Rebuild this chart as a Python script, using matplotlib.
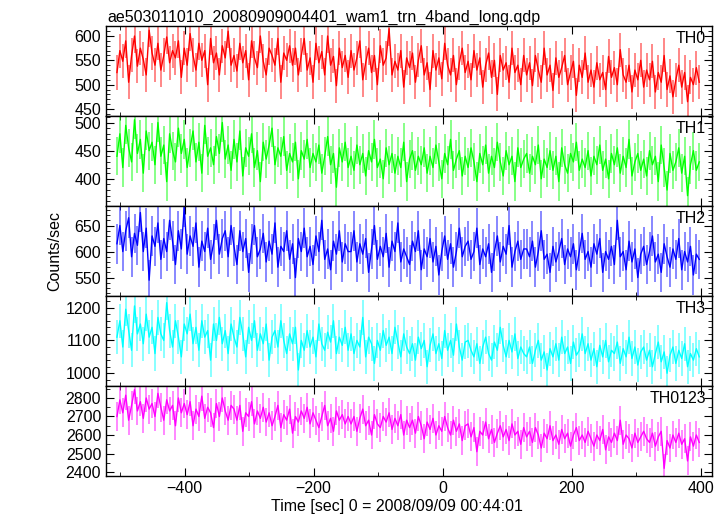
import matplotlib.pyplot as plt
import numpy as np
from matplotlib.ticker import MultipleLocator

plt.rcParams["font.family"] = ["Liberation Sans", "DejaVu Sans"]
plt.rcParams["font.size"] = 11.5

# time bins (sec from 2008/09/09 00:44:01)
t_start, t_stop, n_bins = -505.0, 398.0, 200

th0 = [
    525, 570, 548, 590, 505, 560, 600, 538, 575, 552, 520, 612, 565, 540, 585, 530, 560, 598, 545, 570,
    555, 590, 515, 575, 540, 605, 560, 530, 585, 550, 570, 500, 595, 545, 565, 520, 580, 555, 610, 540,
    560, 528, 585, 545, 570, 510, 590, 555, 535, 600, 548, 520, 575, 560, 540, 595, 505, 565, 550, 580,
    540, 575, 520, 560, 595, 530, 555, 505, 585, 545, 568, 520, 600, 540, 558, 498, 575, 535, 560, 515,
    570, 530, 555, 590, 510, 545, 575, 525, 560, 500, 580, 540, 555, 615, 520, 548, 530, 570, 495, 555,
    535, 565, 505, 550, 580, 520, 545, 490, 570, 530, 555, 512, 585, 540, 520, 560, 500, 545, 575, 525,
    548, 510, 570, 530, 555, 495, 540, 565, 515, 550, 480, 560, 530, 545, 505, 575, 525, 540, 500, 560,
    520, 545, 498, 560, 530, 505, 575, 520, 540, 488, 555, 515, 535, 560, 500, 525, 548, 478, 540, 515,
    565, 505, 530, 495, 545, 510, 525, 490, 558, 515, 535, 500, 572, 520, 505, 540, 485, 530, 510, 550,
    495, 530, 510, 548, 485, 525, 505, 560, 490, 518, 475, 510, 540, 495, 525, 465, 515, 500, 535, 505,
]
th1 = [
    440, 480, 420, 495, 455, 430, 505, 445, 470, 410, 485, 450, 465, 425, 500, 440, 460, 395, 480, 450,
    430, 490, 445, 470, 420, 455, 485, 430, 465, 410, 495, 440, 455, 425, 475, 445, 500, 435, 460, 415,
    470, 430, 485, 405, 455, 440, 480, 420, 450, 395, 465, 435, 460, 490, 425, 455, 440, 475, 415, 445,
    430, 465, 400, 450, 435, 470, 420, 445, 430, 460, 410, 440, 475, 425, 445, 385, 455, 430, 465, 420,
    440, 415, 460, 425, 445, 405, 450, 430, 470, 420, 435, 400, 455, 425, 445, 410, 440, 420, 465, 395,
    435, 450, 415, 440, 425, 455, 410, 440, 420, 460, 430, 400, 445, 425, 470, 415, 435, 450, 405, 440,
    420, 455, 430, 395, 445, 425, 460, 410, 440, 420, 465, 430, 405, 450, 425, 440, 395, 455, 420, 435,
    445, 410, 440, 425, 460, 400, 435, 420, 450, 415, 440, 395, 455, 425, 410, 445, 430, 465, 415, 435,
    420, 450, 405, 440, 425, 460, 415, 435, 400, 445, 425, 455, 410, 440, 420, 470, 405, 430, 445, 415,
    435, 405, 450, 425, 440, 395, 460, 420, 380, 445, 415, 430, 455, 410, 440, 370, 425, 450, 415, 430,
]
th2 = [
    615, 650, 600, 640, 665, 590, 635, 612, 675, 600, 645, 545, 630, 610, 655, 585, 625, 600, 660, 620,
    575, 640, 605, 685, 595, 630, 610, 655, 570, 620, 600, 645, 585, 615, 660, 595, 625, 640, 590, 650,
    610, 575, 640, 600, 625, 560, 615, 650, 590, 605, 635, 580, 620, 595, 655, 570, 610, 600, 640, 585,
    615, 550, 625, 600, 645, 590, 610, 575, 630, 600, 660, 585, 605, 565, 620, 595, 640, 580, 615, 600,
    600, 640, 580, 615, 595, 625, 560, 605, 650, 585, 610, 590, 635, 570, 620, 600, 655, 580, 605, 590,
    575, 620, 600, 640, 565, 605, 590, 625, 580, 610, 555, 600, 630, 585, 615, 570, 600, 645, 590, 610,
    620, 585, 600, 645, 575, 605, 590, 615, 560, 600, 630, 580, 610, 595, 650, 570, 600, 620, 585, 605,
    605, 590, 620, 570, 600, 640, 585, 595, 560, 610, 580, 600, 625, 575, 605, 590, 615, 565, 600, 635,
    585, 600, 570, 615, 595, 625, 560, 600, 585, 610, 575, 660, 590, 600, 565, 620, 580, 605, 550, 595,
    610, 575, 600, 630, 580, 595, 560, 615, 590, 570, 605, 585, 625, 565, 600, 580, 610, 555, 595, 585,
]
th3 = [
    1110, 1160, 1080, 1195, 1130, 1070, 1205, 1120, 1150, 1090, 1180, 1110, 1140, 1060, 1170, 1120, 1100, 1215, 1130, 1080,
    1160, 1110, 1050, 1150, 1120, 1180, 1090, 1140, 1070, 1160, 1110, 1130, 1040, 1150, 1100, 1170, 1090, 1130, 1060, 1150,
    1110, 1080, 1170, 1120, 1050, 1140, 1100, 1160, 1070, 1120, 1090, 1150, 1040, 1110, 1130, 1080, 1160, 1100, 1060, 1120,
    1090, 1140, 1010, 1100, 1070, 1130, 1080, 1110, 1050, 1150, 1090, 1070, 1125, 1095, 1160, 1060, 1110, 1085, 1140, 1070,
    1120, 1060, 1100, 1080, 1170, 1050, 1110, 1090, 1030, 1100, 1070, 1130, 1085, 1110, 1060, 1140, 1095, 1050, 1120, 1080,
    1060, 1090, 1040, 1110, 1075, 1100, 1020, 1085, 1120, 1060, 1090, 1045, 1130, 1070, 1100, 1055, 1150, 1080, 1040, 1095,
    1100, 1070, 1050, 1090, 1030, 1080, 1110, 1060, 1040, 1095, 1070, 1140, 1085, 1050, 1100, 1065, 1120, 1045, 1080, 1060,
    1050, 1080, 1030, 1070, 1100, 1040, 1065, 1010, 1075, 1050, 1090, 1040, 1110, 1060, 1080, 1030, 1095, 1055, 1070, 1120,
    1060, 1090, 1040, 1075, 1020, 1085, 1050, 1100, 1035, 1070, 1060, 1095, 1030, 1075, 1050, 1110, 1045, 1080, 1025, 1065,
    1080, 1040, 1070, 1020, 1060, 1095, 1035, 1065, 1000, 1055, 1080, 1030, 1070, 1045, 1090, 1020, 1060, 1040, 1075, 1050,
]
th0123 = [
    2700, 2790, 2720, 2815, 2680, 2760, 2845, 2730, 2780, 2690, 2800, 2740, 2770, 2700, 2825, 2750, 2680, 2790, 2730, 2760,
    2650, 2800, 2720, 2770, 2710, 2780, 2650, 2740, 2700, 2810, 2690, 2750, 2720, 2640, 2770, 2700, 2800, 2730, 2680, 2760,
    2740, 2680, 2760, 2620, 2720, 2700, 2780, 2660, 2730, 2690, 2750, 2670, 2720, 2650, 2700, 2760, 2640, 2710, 2680, 2740,
    2610, 2700, 2670, 2730, 2690, 2750, 2660, 2720, 2680, 2640, 2700, 2760, 2650, 2690, 2620, 2730, 2680, 2710, 2660, 2700,
    2660, 2700, 2620, 2690, 2740, 2650, 2680, 2600, 2710, 2660, 2640, 2700, 2670, 2720, 2630, 2690, 2650, 2710, 2600, 2680,
    2640, 2680, 2610, 2700, 2650, 2580, 2670, 2630, 2690, 2600, 2650, 2620, 2700, 2640, 2600, 2680, 2620, 2660, 2570, 2650,
    2660, 2590, 2640, 2510, 2620, 2600, 2670, 2580, 2630, 2560, 2610, 2650, 2590, 2630, 2570, 2660, 2600, 2620, 2550, 2640,
    2590, 2620, 2560, 2640, 2600, 2530, 2610, 2580, 2650, 2570, 2600, 2550, 2630, 2580, 2610, 2540, 2600, 2640, 2570, 2600,
    2560, 2620, 2580, 2540, 2600, 2570, 2630, 2520, 2590, 2560, 2610, 2570, 2680, 2550, 2600, 2580, 2530, 2610, 2560, 2590,
    2620, 2580, 2560, 2610, 2540, 2590, 2620, 2420, 2570, 2530, 2600, 2560, 2610, 2550, 2580, 2460, 2590, 2540, 2600, 2560,
]

bands = ["TH0", "TH1", "TH2", "TH3", "TH0123"]
series = [th0, th1, th2, th3, th0123]
errors = [35, 34, 38, 52, 78]  # typical 1-sigma per bin, counts/sec
ylims = [(436, 621), (352, 512), (515, 688), (962, 1236), (2380, 2866)]
ymajor = [50, 50, 50, 100, 100]
yminor = [10, 10, 10, 20, 50]
colors = ["#ff0000", "#00ff00", "#0000ff", "#00ffff", "#ff00ff"]

t = np.linspace(t_start, t_stop, n_bins)

fig, axes = plt.subplots(5, 1, figsize=(7.23, 5.16), dpi=100, sharex=True)
fig.subplots_adjust(left=0.1466, right=0.985, bottom=0.078, top=0.950, hspace=0)

for ax, name, y, err, lim, mj, mn, c in zip(axes, bands, series, errors,
                                            ylims, ymajor, yminor, colors):
    y = np.asarray(y, dtype=float)
    ax.vlines(t, y - err, y + err, color=c, lw=1.2, alpha=0.55)
    ax.plot(t, y, color=c, lw=1.0)
    ax.set_ylim(*lim)
    ax.set_xlim(-522, 418)
    ax.yaxis.set_major_locator(MultipleLocator(mj))
    ax.yaxis.set_minor_locator(MultipleLocator(mn))
    ax.xaxis.set_major_locator(MultipleLocator(200))
    ax.xaxis.set_minor_locator(MultipleLocator(100))
    ax.tick_params(which="both", direction="in", top=True, right=True)
    ax.tick_params(which="major", length=6)
    ax.tick_params(which="minor", length=3)
    ax.text(0.99, 0.94, name, transform=ax.transAxes, ha="right", va="top")
    for s in ax.spines.values():
        s.set_linewidth(1.0)

fig.text(107 / 723, 1 - 22 / 516, "ae503011010_20080909004401_wam1_trn_4band_long.qdp",
         ha="left", va="baseline")
fig.text(55 / 723, 0.514, "Counts/sec", rotation=90, ha="center", va="center")
fig.text(397 / 723, 1 - 507 / 516, "Time [sec] 0 = 2008/09/09 00:44:01",
         ha="center", va="center")

fig.savefig("out.png", dpi=100)
